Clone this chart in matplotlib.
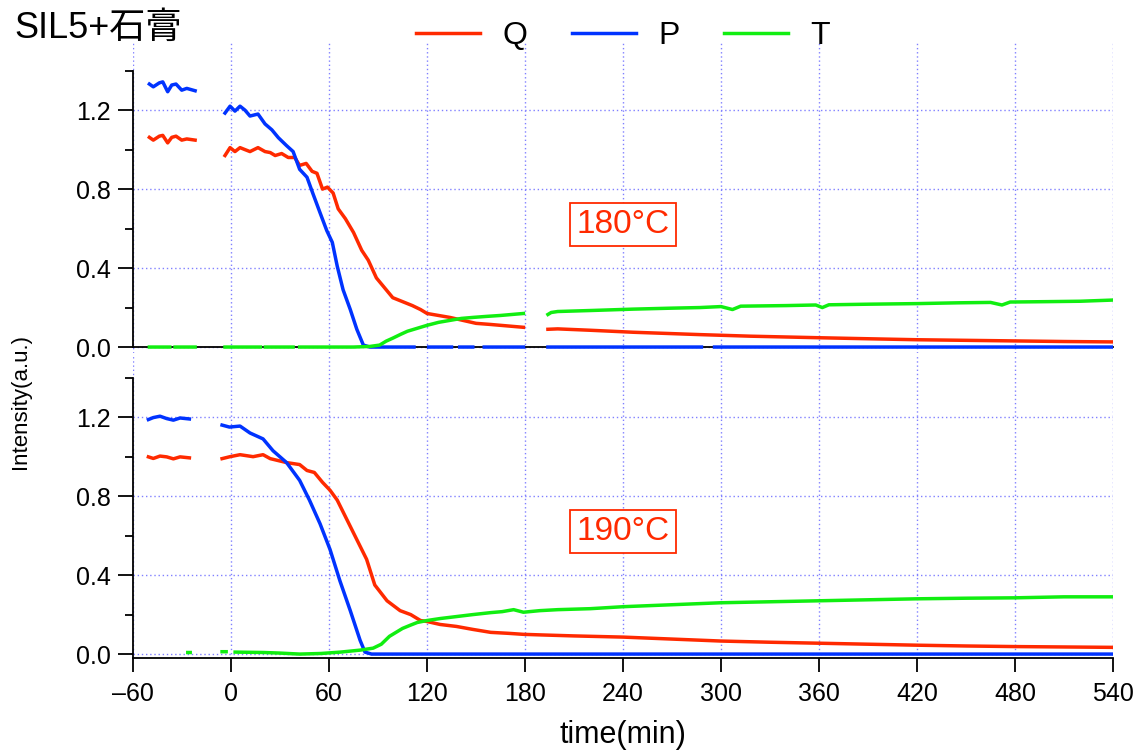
import numpy as np
import matplotlib.pyplot as plt
from matplotlib.ticker import MultipleLocator

plt.rcParams['font.family'] = ['Liberation Sans', 'Noto Sans CJK JP', 'DejaVu Sans']

nan = np.nan
red = '#ff2a00'
blue = '#0033ff'
green = '#11ee11'

# ---- 180 C (upper panel) ----
top_Q_t = [-50, -47.6, -43.9, -41.8, -38.8, -36.3, -33.7, -30.2, -27.1, -22, -12,
           -3.7, -0.6, 2.4, 5.5, 8.5, 11.6, 16.5, 20.8, 24, 27, 31, 35, 39, 42, 46, 49.6,
           52.6, 56, 59, 62.5, 65.6, 70, 75, 80, 84, 89, 93, 99, 105, 111, 116, 120,
           127, 134, 142, 150, 158, 165, 172, 179, 186,
           194, 200, 220, 246, 270, 287, 318, 361, 390, 420, 450, 480, 510, 540]
top_Q = [1.062, 1.048, 1.068, 1.072, 1.034, 1.062, 1.068, 1.048, 1.054, 1.048, nan,
         0.97, 1.01, 0.99, 1.01, 1.00, 0.99, 1.01, 0.99, 0.985, 0.97, 0.98, 0.96, 0.96, 0.92, 0.93, 0.89,
         0.88, 0.80, 0.81, 0.78, 0.70, 0.65, 0.58, 0.49, 0.44, 0.35, 0.31, 0.25, 0.23, 0.21, 0.19, 0.17,
         0.16, 0.15, 0.135, 0.12, 0.115, 0.11, 0.105, 0.10, nan,
         0.09, 0.092, 0.085, 0.075, 0.068, 0.063, 0.055, 0.047, 0.042, 0.037, 0.034, 0.031, 0.028, 0.026]

top_P_t = [-50, -47.6, -43.9, -41.8, -38.8, -36.3, -33.7, -30.2, -27.1, -22, -12,
           -3.7, -0.6, 2.4, 5.5, 8.5, 11.6, 14, 16.5, 20.8, 25, 29, 34, 38, 42, 46.5, 50,
           54.5, 58.6, 62, 65, 68.6, 73, 77, 81, 85, 112, 116, 121, 135, 137, 140, 148, 151, 155, 179, 186,
           194, 288, 292, 296, 540]
top_P = [1.332, 1.318, 1.338, 1.343, 1.293, 1.327, 1.332, 1.301, 1.310, 1.298, nan,
         1.185, 1.22, 1.195, 1.22, 1.20, 1.17, 1.175, 1.18, 1.13, 1.10, 1.06, 1.02, 0.99, 0.90, 0.86, 0.78,
         0.68, 0.59, 0.53, 0.41, 0.29, 0.19, 0.09, 0.01, 0.0, 0.0, nan, 0.0, 0.0, nan, 0.0, 0.0, nan, 0.0, 0.0, nan,
         0.0, 0.0, nan, 0.0, 0.0]

top_T_t = [-50, -37.5, -36, -34.3, -22, -12,
           -3.7, 18, 19.5, 21, 38, 40, 42, 75, 85, 91, 95, 99, 104, 108, 116, 120, 127, 134,
           141, 148, 156, 165, 172, 179, 186,
           194, 196, 200, 220, 246, 270, 287, 300, 307, 312, 340, 358, 362, 366, 390, 420,
           445, 465, 472, 477, 500, 520, 540]
top_T = [0.0, 0.0, nan, 0.0, 0.0, nan,
         0.0, 0.0, nan, 0.0, 0.0, nan, 0.0, 0.0, 0.003, 0.01, 0.03, 0.045, 0.065, 0.08, 0.10, 0.11, 0.125, 0.135,
         0.145, 0.15, 0.155, 0.16, 0.165, 0.17, nan,
         0.165, 0.175, 0.18, 0.185, 0.192, 0.197, 0.20, 0.205, 0.19, 0.207, 0.21, 0.213, 0.20, 0.214, 0.217, 0.22,
         0.224, 0.226, 0.213, 0.228, 0.23, 0.232, 0.238]

# ---- 190 C (lower panel) ----
bot_Q_t = [-50.6, -47.6, -43.5, -39.4, -35.3, -31.2, -25.5, -15,
           -5.5, -0.6, 5.5, 13.5, 19.6, 24, 34, 42, 46.5, 51, 56, 60.6, 65, 71, 77, 83, 88,
           95.5, 103.5, 110, 116, 120, 128, 138, 148, 159, 170, 179, 190, 210, 240, 270,
           300, 330, 360, 390, 420, 450, 480, 510, 540]
bot_Q = [0.999, 0.991, 1.003, 0.999, 0.989, 0.999, 0.994, nan,
         0.99, 1.00, 1.01, 1.00, 1.01, 0.99, 0.97, 0.96, 0.93, 0.92, 0.87, 0.83, 0.78, 0.68, 0.58, 0.48, 0.35,
         0.27, 0.22, 0.20, 0.17, 0.165, 0.15, 0.14, 0.125, 0.11, 0.105, 0.10, 0.097, 0.092, 0.086, 0.076,
         0.066, 0.060, 0.055, 0.050, 0.045, 0.041, 0.038, 0.036, 0.034]

bot_P_t = [-50.6, -47.6, -43.5, -39.4, -35.3, -31.2, -25.5, -15,
           -5.5, -1, 5.5, 11.6, 19.6, 25.7, 34, 42, 48, 54.5, 60.6, 66.7, 73, 79, 82, 86, 540]
bot_P = [1.188, 1.198, 1.205, 1.193, 1.185, 1.196, 1.191, nan,
         1.16, 1.15, 1.155, 1.12, 1.09, 1.03, 0.97, 0.88, 0.78, 0.66, 0.53, 0.37, 0.22, 0.07, 0.01, 0.0, 0.0]

bot_T_t = [-26.5, -25.0, -15,
           -5.5, -3, -1.5, 2.5, 20, 30, 42, 55, 67, 79, 87, 92, 97, 105, 110, 114, 120,
           128, 138, 148, 159, 166, 173, 179, 189, 200, 220, 240, 270, 300, 330, 360,
           390, 420, 450, 480, 510, 540]
bot_T = [0.008, 0.008, nan,
         0.012, 0.012, nan, 0.01, 0.008, 0.005, 0.0, 0.003, 0.01, 0.02, 0.03, 0.05, 0.09, 0.13, 0.147, 0.16, 0.17,
         0.18, 0.19, 0.20, 0.21, 0.215, 0.225, 0.212, 0.22, 0.225, 0.23, 0.24, 0.25, 0.26, 0.265, 0.27,
         0.275, 0.28, 0.283, 0.285, 0.29, 0.29]

x_ticks = list(range(-60, 541, 60))
y_major = [0.0, 0.4, 0.8, 1.2]

fig = plt.figure(figsize=(11.43, 7.51), dpi=100)
ax1 = fig.add_axes([0.1164, 0.530, 0.8574, 0.4154])
ax2 = fig.add_axes([0.1164, 0.1238, 0.8574, 0.4048])

panels = [
    (ax1, (top_Q_t, top_Q), (top_P_t, top_P), (top_T_t, top_T), (-0.03, 1.55), '180°C'),
    (ax2, (bot_Q_t, bot_Q), (bot_P_t, bot_P), (bot_T_t, bot_T), (-0.02, 1.52), '190°C'),
]

for ax, q, p, t, ylim, label in panels:
    ax.plot(q[0], q[1], color=red, lw=2.5, label='Q', zorder=3)
    ax.plot(p[0], p[1], color=blue, lw=2.5, label='P', zorder=3)
    ax.plot(t[0], t[1], color=green, lw=2.5, label='T', zorder=3)
    ax.set_xlim(-60, 540)
    ax.set_ylim(*ylim)
    ax.set_xticks(x_ticks)
    ax.set_yticks(y_major)
    ax.yaxis.set_minor_locator(MultipleLocator(0.2))
    ax.set_yticklabels(['0.0', '0.4', '0.8', '1.2'])
    ax.grid(True, which='major', color='#8080ff', lw=1.0, ls=(0, (1, 2)))
    ax.set_axisbelow(True)
    for s in ('top', 'right'):
        ax.spines[s].set_visible(False)
    ax.spines['left'].set_linewidth(1.3)
    ax.spines['bottom'].set_linewidth(1.3)
    ax.tick_params(axis='y', which='major', length=11, width=1.3, labelsize=18, pad=5)
    ax.tick_params(axis='y', which='minor', length=6, width=1.3)
    ax.text(240, 0.62, label, color=red, fontsize=24, ha='center', va='center',
            bbox=dict(boxstyle='square,pad=0.18', fc='white', ec=red, lw=1.3), zorder=4)

# upper panel: x axis line drawn at zero, no ticks
ax1.spines['bottom'].set_position(('data', 0))
ax1.spines['bottom'].set_color('black')
ax1.spines['left'].set_bounds(0, 1.4)
ax1.tick_params(axis='x', length=0, labelbottom=False)

ax2.spines['left'].set_bounds(-0.02, 1.4)
ax2.tick_params(axis='x', length=10, width=1.3, labelsize=18, pad=7)
ax2.set_xticklabels([str(v).replace('-', '\u2013') for v in x_ticks])

fig.text(0.013, 0.962, 'SIL5+石膏', fontsize=26, ha='left', va='center')
fig.text(0.018, 0.465, 'Intensity(a.u.)', fontsize=16, rotation=90, ha='center', va='center')
fig.text(0.545, 0.021, 'time(min)', fontsize=22, ha='center', va='center')

handles, labels = ax1.get_legend_handles_labels()
fig.legend(handles, labels, loc='center', bbox_to_anchor=(0.545, 0.952), ncol=3, frameon=False,
           fontsize=23, handlelength=2.0, handletextpad=0.7, columnspacing=1.4)

fig.savefig('out.png', dpi=100)
